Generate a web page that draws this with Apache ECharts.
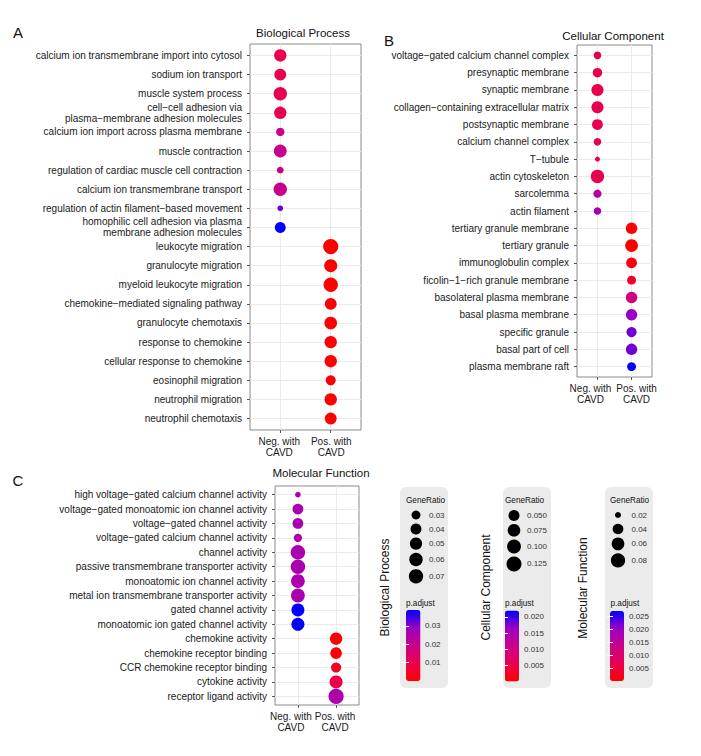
<!DOCTYPE html>
<html><head><meta charset="utf-8">
<script src="https://cdn.jsdelivr.net/npm/echarts@6/dist/echarts.min.js"></script>
<style>html,body{margin:0;padding:0;background:#fff}#c{width:701px;height:756px}</style>
</head><body><div id="c"></div>
<script>
// ---------------- data ----------------
const groups = ['Neg. with\nCAVD', 'Pos. with\nCAVD'];

const bpTerms = [
  'calcium ion transmembrane import into cytosol',
  'sodium ion transport',
  'muscle system process',
  'cell\u2212cell adhesion via\nplasma\u2212membrane adhesion molecules',
  'calcium ion import across plasma membrane',
  'muscle contraction',
  'regulation of cardiac muscle cell contraction',
  'calcium ion transmembrane transport',
  'regulation of actin filament\u2212based movement',
  'homophilic cell adhesion via plasma\nmembrane adhesion molecules',
  'leukocyte migration',
  'granulocyte migration',
  'myeloid leukocyte migration',
  'chemokine\u2212mediated signaling pathway',
  'granulocyte chemotaxis',
  'response to chemokine',
  'cellular response to chemokine',
  'eosinophil migration',
  'neutrophil migration',
  'neutrophil chemotaxis'
];
const bpCluster = [0,0,0,0,0,0,0,0,0,0, 1,1,1,1,1,1,1,1,1,1];
const bpRatio = [0.051,0.047,0.060,0.051,0.028,0.055,0.0245,0.060,0.0236,0.040,
                 0.0792,0.057,0.070,0.047,0.053,0.051,0.051,0.035,0.051,0.047];
const bpPadj = [0.009,0.009,0.010,0.010,0.019,0.020,0.019,0.020,0.032,0.0386,
                0.000002,0.00005,0.00002,0.0001,0.00006,0.00015,0.00015,0.0004,0.00003,0.00008];
const bpSizeBreaks = [0.03,0.04,0.05,0.06,0.07];
const bpPBreaks = [0.01,0.02,0.03];

const ccTerms = [
  'voltage\u2212gated calcium channel complex',
  'presynaptic membrane',
  'synaptic membrane',
  'collagen\u2212containing extracellular matrix',
  'postsynaptic membrane',
  'calcium channel complex',
  'T\u2212tubule',
  'actin cytoskeleton',
  'sarcolemma',
  'actin filament',
  'tertiary granule membrane',
  'tertiary granule',
  'immunoglobulin complex',
  'ficolin\u22121\u2212rich granule membrane',
  'basolateral plasma membrane',
  'basal plasma membrane',
  'specific granule',
  'basal part of cell',
  'plasma membrane raft'
];
const ccCluster = [0,0,0,0,0,0,0,0,0,0, 1,1,1,1,1,1,1,1,1];
const ccRatio = [0.0245,0.047,0.098,0.098,0.070,0.0245,0.0139,0.130,0.031,0.0245,
                 0.082,0.114,0.070,0.039,0.082,0.082,0.058,0.082,0.039];
const ccPadj = [0.005,0.005,0.005,0.0055,0.0055,0.005,0.005,0.0055,0.013,0.015,
                0.0002,0.0001,0.001,0.003,0.0099,0.0165,0.018,0.018,0.022];
const ccSizeBreaks = [0.050,0.075,0.100,0.125];
const ccPBreaks = [0.005,0.010,0.015,0.020];

const mfTerms = [
  'high voltage\u2212gated calcium channel activity',
  'voltage\u2212gated monoatomic ion channel activity',
  'voltage\u2212gated channel activity',
  'voltage\u2212gated calcium channel activity',
  'channel activity',
  'passive transmembrane transporter activity',
  'monoatomic ion channel activity',
  'metal ion transmembrane transporter activity',
  'gated channel activity',
  'monoatomic ion gated channel activity',
  'chemokine activity',
  'chemokine receptor binding',
  'CCR chemokine receptor binding',
  'cytokine activity',
  'receptor ligand activity'
];
const mfCluster = [0,0,0,0,0,0,0,0,0,0, 1,1,1,1,1];
const mfRatio = [0.0199,0.041,0.041,0.025,0.083,0.083,0.073,0.073,0.063,0.063,
                 0.056,0.048,0.036,0.063,0.0931];
const mfPadj = [0.018,0.018,0.018,0.018,0.018,0.018,0.018,0.018,0.0272,0.0272,
                0.0001,0.0005,0.003,0.006,0.0175];
const mfSizeBreaks = [0.02,0.04,0.06,0.08];
const mfPBreaks = [0.005,0.010,0.015,0.020,0.025];

// ---------------- style / layout ----------------
const FONT = '"Liberation Sans", Arial, Helvetica, sans-serif';
const TXT = '#1a1a1a';
const K = 1.9;
const GRAD = ['#FF0000', '#E80050', '#CA0089', '#9A00C3', '#0000FF'];

function makeSize(vals) {
  const lo = Math.min(...vals), hi = Math.max(...vals);
  return v => K * (3 + 5 * Math.sqrt(Math.max(0, (v - lo) / (hi - lo))));
}

const panels = [
  { title: 'Biological Process', letter: 'A', terms: bpTerms, cluster: bpCluster, ratio: bpRatio, padj: bpPadj,
    sizeBreaks: bpSizeBreaks, sDigits: 2, pBreaks: bpPBreaks, pDigits: 2, dotScale: 1,
    frame: { left: 250, top: 44, width: 111, height: 386 }, titlePos: [303, 33], letterPos: [18, 32], xShift: [-1, 0.5],
    box: { x: 400, y: 487, w: 48, h: 201 }, genTitle: [406, 500], circleX: 416, firstY: 515, labelX: 429,
    padTitle: [406, 603], bar: { x: 406, y: 610, w: 14.5, h: 71 }, barGap: 4.5, vert: [385, 587.5] },
  { title: 'Cellular Component', letter: 'B', terms: ccTerms, cluster: ccCluster, ratio: ccRatio, padj: ccPadj,
    sizeBreaks: ccSizeBreaks, sDigits: 3, pBreaks: ccPBreaks, pDigits: 3, dotScale: 0.88,
    frame: { left: 577, top: 45, width: 75, height: 332 }, titlePos: [613, 36], letterPos: [389, 40], xShift: [-7, 5],
    box: { x: 503, y: 487, w: 48, h: 201 }, genTitle: [505, 500], circleX: 514, firstY: 515.5, labelX: 527,
    padTitle: [505, 603], bar: { x: 505, y: 610.5, w: 14, h: 71 }, barGap: 5, vert: [486, 587.5] },
  { title: 'Molecular Function', letter: 'C', terms: mfTerms, cluster: mfCluster, ratio: mfRatio, padj: mfPadj,
    sizeBreaks: mfSizeBreaks, sDigits: 2, pBreaks: mfPBreaks, pDigits: 3, dotScale: 1,
    frame: { left: 275, top: 486, width: 84, height: 219 }, titlePos: [321, 473], letterPos: [18, 480], xShift: [-7, -1],
    box: { x: 605, y: 487, w: 48, h: 201 }, genTitle: [610, 500], circleX: 618, firstY: 515, labelX: 631.5,
    padTitle: [610.5, 603], bar: { x: 610, y: 611, w: 14, h: 70 }, barGap: 5, vert: [583, 588] }
];

const grids = [], xAxes = [], yAxes = [], series = [], visualMaps = [], graphics = [];
const sizeFns = panels.map(p => makeSize(p.ratio));

// dot-plot panels: grids 0..2, x axes 0..5 (one per column), y axes 0..2
panels.forEach((p, i) => {
  const n = p.terms.length;
  const size = sizeFns[i];
  const rows = p.terms.map((_, j) => j + 1);

  grids.push(Object.assign({ show: true, borderColor: '#8a8a8a', borderWidth: 1, backgroundColor: '#fff', containLabel: false, outerBoundsMode: 'none' }, p.frame));

  groups.forEach((g, k) => {
    const dx = p.xShift[k];
    const rich = { s: { fontFamily: FONT, fontSize: 10, lineHeight: 11, color: TXT,
      padding: dx < 0 ? [0, -2 * dx, 0, 0] : [0, 0, 0, 2 * dx] } };
    xAxes.push({
      gridIndex: i, type: 'value', min: 0.4, max: 2.6, position: 'bottom', offset: 0,
      axisLine: { show: false },
      axisTick: { show: true, customValues: [k + 1], length: 3, lineStyle: { color: '#555' } },
      axisLabel: { customValues: [k + 1], margin: 6, fontFamily: FONT, fontSize: 10, lineHeight: 11, color: TXT,
        hideOverlap: false, showMinLabel: true, showMaxLabel: true,
        formatter: v => groups[Math.round(v) - 1].split('\n').map(l => '{s|' + l + '}').join('\n'),
        rich: rich },
      splitLine: { show: true, lineStyle: { color: '#EBEBEB', width: 1 } },
      minorTick: { show: false }, minorSplitLine: { show: false }
    });
  });
  yAxes.push({
    gridIndex: i, type: 'value', inverse: true, min: 0.4, max: n + 0.6,
    axisLine: { show: false },
    axisTick: { show: true, customValues: rows, length: 3, lineStyle: { color: '#555' } },
    axisLabel: { customValues: rows, margin: 8, fontFamily: FONT, fontSize: 10, lineHeight: 11, color: TXT, align: 'right',
      hideOverlap: false, showMinLabel: true, showMaxLabel: true,
      formatter: v => p.terms[Math.round(v) - 1] },
    splitLine: { show: true, lineStyle: { color: '#EBEBEB', width: 1 } },
    minorTick: { show: false }, minorSplitLine: { show: false }
  });

  series.push({
    type: 'scatter', xAxisIndex: 2 * i, yAxisIndex: i,
    data: p.terms.map((t, j) => [p.cluster[j] + 1, j + 1, p.ratio[j], p.padj[j]]),
    symbol: 'circle', symbolSize: val => size(val[2]) * p.dotScale,
    itemStyle: { opacity: 1 }, emphasis: { disabled: true }, z: 3
  });
});

// colour bars: grids 3..5, x axes 6..8, y axes 3..8
panels.forEach((p, i) => {
  const pmin = Math.min(...p.padj), pmax = Math.max(...p.padj);
  const size = sizeFns[i];
  const gi = 3 + i;

  visualMaps.push({
    type: 'continuous', seriesIndex: i, dimension: 3, min: pmin, max: pmax,
    inRange: { color: GRAD }, show: true, calculable: false, orient: 'vertical',
    left: p.bar.x, top: p.bar.y, itemWidth: p.bar.w, itemHeight: p.bar.h, padding: 0,
    hoverLink: false, z: 4
  });

  grids.push({ left: p.bar.x, top: p.bar.y, width: p.bar.w, height: p.bar.h, show: false, containLabel: false, outerBoundsMode: 'none' });
  xAxes.push({ gridIndex: gi, type: 'value', show: false });
  yAxes.push({
    gridIndex: gi, type: 'value', min: pmin, max: pmax, position: 'right', z: 10,
    axisLine: { show: false },
    axisTick: { show: true, inside: true, length: 3, customValues: p.pBreaks, lineStyle: { color: '#fff', width: 1 } },
    axisLabel: { customValues: p.pBreaks, margin: p.barGap, fontFamily: FONT, fontSize: 8, color: '#333',
      hideOverlap: false, formatter: v => v.toFixed(p.pDigits) },
    splitLine: { show: false }
  });
  yAxes.push({
    gridIndex: gi, type: 'value', min: pmin, max: pmax, position: 'left', z: 10,
    axisLine: { show: false },
    axisTick: { show: true, inside: true, length: 3, customValues: p.pBreaks, lineStyle: { color: '#fff', width: 1 } },
    axisLabel: { show: false }, splitLine: { show: false }
  });

  // titles
  graphics.push({ type: 'text', x: p.titlePos[0], y: p.titlePos[1], z: 100,
    style: { text: p.title, fill: '#111', font: '11.5px ' + FONT, textAlign: 'center', textVerticalAlign: 'middle' } });
  graphics.push({ type: 'text', x: p.letterPos[0], y: p.letterPos[1], z: 100,
    style: { text: p.letter, fill: '#111', font: '15px ' + FONT, textAlign: 'center', textVerticalAlign: 'middle' } });

  // legend box
  graphics.push({ type: 'rect', z: 1, shape: { x: p.box.x, y: p.box.y, width: p.box.w, height: p.box.h, r: 6 },
    style: { fill: '#EBEBEB' } });
  graphics.push({ type: 'text', x: p.vert[0], y: p.vert[1], rotation: Math.PI / 2, z: 100,
    style: { text: p.title, fill: '#111', font: '12px ' + FONT, textAlign: 'center', textVerticalAlign: 'middle' } });
  graphics.push({ type: 'text', x: p.genTitle[0], y: p.genTitle[1], z: 100,
    style: { text: 'GeneRatio', fill: '#111', font: '8.2px ' + FONT, textAlign: 'left', textVerticalAlign: 'middle' } });
  graphics.push({ type: 'text', x: p.padTitle[0], y: p.padTitle[1], z: 100,
    style: { text: 'p.adjust', fill: '#111', font: '8.2px ' + FONT, textAlign: 'left', textVerticalAlign: 'middle' } });
  let cy = p.firstY, prevH = null;
  p.sizeBreaks.forEach(b => {
    const d = size(b);
    const h = Math.max(d + 3, 14);
    if (prevH !== null) cy += (prevH + h) / 2;
    prevH = h;
    graphics.push({ type: 'circle', z: 100, shape: { cx: p.circleX, cy: cy, r: d / 2 }, style: { fill: '#000' } });
    graphics.push({ type: 'text', x: p.labelX, y: cy, z: 100,
      style: { text: b.toFixed(p.sDigits), fill: '#333', font: '8px ' + FONT, textAlign: 'left', textVerticalAlign: 'middle' } });
  });
});

const chart = echarts.init(document.getElementById('c'), null, { renderer: 'svg', width: 701, height: 756 });
chart.setOption({
  animation: false,
  backgroundColor: '#fff',
  textStyle: { fontFamily: FONT },
  grid: grids, xAxis: xAxes, yAxis: yAxes,
  series: series, visualMap: visualMaps,
  tooltip: { show: false },
  graphic: { elements: graphics }
});
</script></body></html>
